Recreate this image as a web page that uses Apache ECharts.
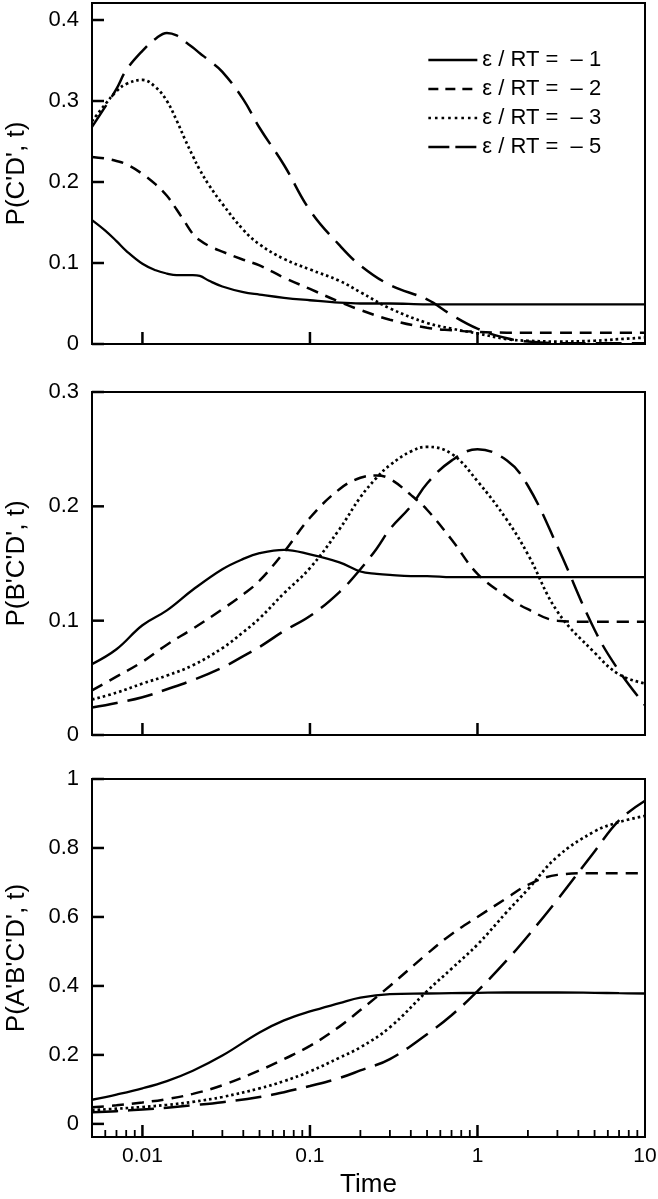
<!DOCTYPE html>
<html><head><meta charset="utf-8">
<script src="https://cdn.jsdelivr.net/npm/echarts@6/dist/echarts.min.js"></script>
<style>html,body{margin:0;padding:0;background:#fff}#c{width:658px;height:1199px}</style>
</head><body><div id="c"></div>
<script>
// ---------- data ----------
const seriesNames = ['\u03b5 / RT =  \u2013 1', '\u03b5 / RT =  \u2013 2', '\u03b5 / RT =  \u2013 3', '\u03b5 / RT =  \u2013 5'];
const xTickLabels = [0.01, 0.1, 1, 10];
const xMinorTicks = [0.006,0.007,0.008,0.009,0.02,0.03,0.04,0.05,0.06,0.07,0.08,0.09,0.2,0.3,0.4,0.5,0.6,0.7,0.8,0.9,2,3,4,5,6,7,8,9];
const yTicks1 = [0, 0.1, 0.2, 0.3, 0.4];
const yTicks2 = [0, 0.1, 0.2, 0.3];
const yTicks3 = [0, 0.2, 0.4, 0.6, 0.8, 1];
const yTitles = ["P(C'D', t)", "P(B'C'D', t)", "P(A'B'C'D', t)"];

// Panel 1: P(C'D', t)
const time1 = [0.005,0.006,0.007,0.008,0.01,0.012,0.014,0.016,0.018,0.02,0.022,0.025,0.03,0.04,0.05,0.07,0.1,0.15,0.2,0.3,0.5,0.7,1,1.5,2,3,5,7,10];
const p1_m1 = [0.153,0.140,0.127,0.115,0.099,0.091,0.087,0.085,0.085,0.085,0.084,0.078,0.071,0.064,0.061,0.057,0.054,0.051,0.050,0.050,0.049,0.049,0.049,0.049,0.049,0.049,0.049,0.049,0.049];
const p1_m2 = [0.231,0.229,0.226,0.222,0.210,0.197,0.183,0.166,0.150,0.136,0.128,0.121,0.114,0.104,0.097,0.082,0.068,0.052,0.042,0.030,0.020,0.017,0.015,0.014,0.014,0.014,0.014,0.014,0.014];
const p1_m3 = [0.275,0.296,0.312,0.321,0.326,0.317,0.300,0.276,0.252,0.232,0.215,0.196,0.173,0.141,0.123,0.105,0.092,0.078,0.064,0.044,0.026,0.019,0.013,0.006,0.004,0.003,0.004,0.006,0.008];
const p1_m5 = [0.268,0.293,0.315,0.338,0.362,0.377,0.384,0.381,0.373,0.366,0.359,0.350,0.336,0.302,0.267,0.221,0.165,0.122,0.097,0.073,0.055,0.036,0.019,0.007,0.003,0.001,0.001,0.001,0.001];

// Panel 2: P(B'C'D', t)
const time2 = [0.005,0.007,0.01,0.014,0.02,0.03,0.04,0.05,0.07,0.1,0.15,0.2,0.25,0.3,0.4,0.5,0.7,1,1.5,2,3,5,7,10];
const p2_m1 = [0.062,0.075,0.096,0.109,0.127,0.145,0.154,0.159,0.162,0.158,0.151,0.143,0.141,0.140,0.139,0.139,0.138,0.138,0.138,0.138,0.138,0.138,0.138,0.138];
const p2_m2 = [0.039,0.051,0.064,0.079,0.093,0.110,0.123,0.135,0.160,0.190,0.215,0.225,0.227,0.224,0.210,0.197,0.171,0.141,0.121,0.110,0.100,0.099,0.099,0.099];
const p2_m3 = [0.031,0.037,0.045,0.052,0.061,0.076,0.090,0.102,0.124,0.146,0.180,0.208,0.225,0.236,0.248,0.252,0.246,0.222,0.188,0.158,0.108,0.072,0.053,0.045];
const p2_m5 = [0.024,0.028,0.033,0.040,0.048,0.059,0.069,0.077,0.091,0.104,0.125,0.145,0.163,0.180,0.200,0.220,0.240,0.250,0.240,0.218,0.165,0.092,0.056,0.026];

// Panel 3: P(A'B'C'D', t)
const time3 = [0.005,0.007,0.01,0.014,0.02,0.03,0.05,0.07,0.1,0.15,0.2,0.3,0.5,0.7,1,1.5,2,3,5,7,10];
const p3_m1 = [0.070,0.085,0.103,0.124,0.154,0.198,0.265,0.300,0.326,0.350,0.366,0.376,0.378,0.379,0.380,0.381,0.381,0.381,0.380,0.379,0.378];
const p3_m2 = [0.048,0.054,0.062,0.072,0.087,0.112,0.155,0.188,0.226,0.282,0.330,0.400,0.493,0.550,0.600,0.655,0.693,0.722,0.727,0.727,0.727];
const p3_m3 = [0.040,0.044,0.049,0.055,0.064,0.078,0.103,0.124,0.152,0.192,0.222,0.280,0.385,0.450,0.520,0.615,0.680,0.775,0.848,0.875,0.893];
const p3_m5 = [0.034,0.037,0.042,0.047,0.054,0.063,0.078,0.092,0.110,0.133,0.155,0.188,0.260,0.315,0.385,0.475,0.545,0.650,0.790,0.880,0.937];

// ---------- chart ----------
const FONT = 'Liberation Sans, Arial, Helvetica, sans-serif';
const XMIN = Math.log10(0.005), XMAX = Math.log10(10);
const lg = v => Math.log10(v);
const styles = [
  {type: 'solid', width: 2.3},
  {type: [12, 8], width: 2.5},
  {type: [2.6, 3], width: 2.7},
  {type: [26, 10], width: 2.5}
];
const legendStyles = [
  {type: 'solid', width: 2.3},
  {type: [10, 7], width: 2.5},
  {type: [2.6, 4], width: 2.7},
  {type: [21, 6], width: 2.5}
];
const grids = [
  {left: 92, right: 13, top: 3, height: 341},
  {left: 92, right: 13, top: 392, height: 343},
  {left: 92, right: 13, top: 779, height: 358}
].map(g => Object.assign(g, {show: true, borderColor: '#000', borderWidth: 2, containLabel: false, outerBoundsMode: 'none'}));
const yRanges = [[0, 0.421], [0, 0.3], [-0.038, 1]];
const yTickSets = [yTicks1, yTicks2, yTicks3];

function xAxis(g) {
  return {
    type: 'value', gridIndex: g, min: XMIN, max: XMAX, position: 'bottom',
    axisLine: {show: true, onZero: false, lineStyle: {color: '#000', width: 2}},
    axisTick: {show: false},
    axisLabel: {show: g === 2, customValues: xTickLabels.map(lg), fontSize: 21, color: '#000', fontFamily: FONT, margin: 9,
      formatter: v => String(+Math.pow(10, v).toPrecision(3))},
    splitLine: {show: false},
    name: g === 2 ? 'Time' : '', nameLocation: 'middle', nameGap: 35,
    nameTextStyle: {fontSize: 26, color: '#000', fontFamily: FONT}
  };
}
function yAxis(g) {
  return {
    type: 'value', gridIndex: g, min: yRanges[g][0], max: yRanges[g][1],
    axisLine: {show: true, onZero: false, lineStyle: {color: '#000', width: 2}},
    axisTick: {show: false},
    axisLabel: {customValues: yTickSets[g], fontSize: 22, color: '#000', fontFamily: FONT, margin: 13},
    splitLine: {show: false},
    name: yTitles[g], nameLocation: 'middle', nameGap: 62,
    nameTextStyle: {fontSize: 26, color: '#000', fontFamily: FONT}
  };
}

const panels = [
  {t: time1, s: [p1_m1, p1_m2, p1_m3, p1_m5]},
  {t: time2, s: [p2_m1, p2_m2, p2_m3, p2_m5]},
  {t: time3, s: [p3_m1, p3_m2, p3_m3, p3_m5]}
];
const series = [];
panels.forEach((p, g) => {
  p.s.forEach((vals, k) => {
    series.push({
      type: 'line', name: seriesNames[k], xAxisIndex: g, yAxisIndex: g,
      data: p.t.map((t, i) => [lg(t), vals[i]]),
      symbol: 'none', smooth: 0.4, silent: true,
      lineStyle: Object.assign({color: '#000', cap: 'butt'}, styles[k]),
      itemStyle: {color: '#000'}
    });
  });
});

const chart = echarts.init(document.getElementById('c'), null, {renderer: 'canvas'});
chart.setOption({
  animation: false,
  backgroundColor: '#fff',
  grid: grids,
  xAxis: [0, 1, 2].map(xAxis),
  yAxis: [0, 1, 2].map(yAxis),
  legend: {
    left: 422, top: 44, orient: 'vertical', itemWidth: 49, itemHeight: 14, itemGap: 7,
    selectedMode: false,
    textStyle: {fontSize: 22, color: '#000', fontFamily: FONT},
    itemStyle: {color: 'rgba(0,0,0,0)', borderColor: 'rgba(0,0,0,0)', borderWidth: 0},
    data: seriesNames.map((n, k) => ({name: n, lineStyle: Object.assign({color: '#000', cap: 'butt'}, legendStyles[k])}))
  },
  series: series
});

// inward tick marks, positioned through each panel's own axes
const tickEls = [];
function tickLine(x1, y1, x2, y2, w) {
  tickEls.push({type: 'line', silent: true, z: 10, shape: {x1: x1, y1: y1, x2: x2, y2: y2}, style: {stroke: '#000', lineWidth: w}});
}
[0, 1, 2].forEach(g => {
  const finder = {xAxisIndex: g, yAxisIndex: g};
  const yMin = yRanges[g][0];
  xTickLabels.slice(0, 3).forEach(v => {
    const p = chart.convertToPixel(finder, [lg(v), yMin]);
    tickLine(p[0], p[1], p[0], p[1] - 12, 2.5);
  });
  if (g === 2) {
    xMinorTicks.forEach(v => {
      const p = chart.convertToPixel(finder, [lg(v), yMin]);
      tickLine(p[0], p[1], p[0], p[1] - 7, 1.8);
    });
  }
  yTickSets[g].forEach(v => {
    const p = chart.convertToPixel(finder, [XMIN, v]);
    tickLine(p[0], p[1], p[0] + 12, p[1], 2.5);
  });
});
chart.setOption({graphic: tickEls});
</script>
</body></html>
